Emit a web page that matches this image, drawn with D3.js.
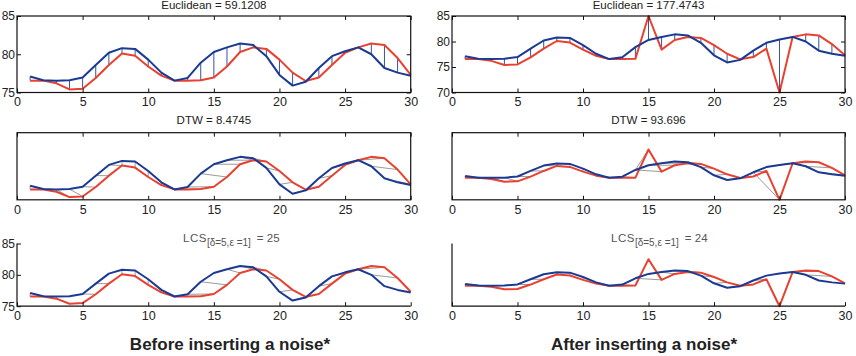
<!DOCTYPE html>
<html>
<head>
<meta charset="utf-8">
<script src="https://cdn.jsdelivr.net/npm/d3@7"></script>
<style>
body { margin: 0; background: #fff; }
svg { display: block; }
text { font-family: "Liberation Sans", Arial, sans-serif; fill: #222; }
</style>
</head>
<body>
<div id="chart"></div>
<script>
// Data
var timeIndex = [1, 2, 3, 4, 5, 6, 7, 8, 9, 10, 11, 12, 13, 14, 15, 16, 17, 18, 19, 20, 21, 22, 23, 24, 25, 26, 27, 28, 29, 30];
var blueSeries = [77.1, 76.6, 76.55, 76.6, 76.95, 78.6, 80.2, 80.8, 80.7, 79.3, 77.6, 76.55, 76.9, 78.9, 80.3, 80.9, 81.4, 81.2, 79.75, 77.3, 75.9, 76.4, 78.2, 79.75, 80.4, 80.9, 80.0, 78.2, 77.6, 77.2];
var redSeries = [76.55, 76.55, 76.2, 75.4, 75.5, 76.9, 78.6, 80.1, 79.8, 78.4, 77.2, 76.55, 76.55, 76.6, 76.95, 78.4, 80.3, 80.9, 80.7, 79.3, 77.6, 76.5, 76.95, 78.6, 80.2, 80.9, 81.4, 81.2, 79.5, 77.3];
var redNoisy = [76.55, 76.55, 76.2, 75.4, 75.5, 76.9, 78.6, 80.1, 79.8, 78.4, 77.2, 76.55, 76.55, 76.6, 85.0, 78.4, 80.3, 80.9, 80.7, 79.3, 77.6, 76.5, 76.95, 78.6, 70.0, 80.9, 81.4, 81.2, 79.5, 77.3];

var xTicks = [0, 5, 10, 15, 20, 25, 30];
var yTicksClean = [75, 80, 85];
var yTicksNoisy = [70, 75, 80, 85];

var euclidTitles = ["Euclidean = 59.1208", "Euclidean = 177.4743"];
var dtwTitles = ["DTW = 8.4745", "DTW = 93.696"];
var lcsValues = ["25", "24"];
var captions = ["Before inserting a noise*", "After inserting a noise*"];

var blueColor = "#1b3a92";
var redColor = "#e8412f";

var w = 856, h = 356;
var svg = d3.select("#chart").append("svg").attr("width", w).attr("height", h);

// DTW alignment path (absolute difference cost)
function dtwPairs(a, b) {
    var n = a.length, m = b.length, D = [];
    for (var i = 0; i < n; i++) {
        D.push([]);
        for (var j = 0; j < m; j++) {
            var c = Math.abs(a[i] - b[j]);
            var best;
            if (i == 0 && j == 0) best = 0;
            else best = Math.min(i > 0 ? D[i - 1][j] : Infinity, j > 0 ? D[i][j - 1] : Infinity, i > 0 && j > 0 ? D[i - 1][j - 1] : Infinity);
            D[i][j] = c + best;
        }
    }
    var pairs = [[n - 1, m - 1]];
    var i = n - 1, j = m - 1;
    while (i > 0 || j > 0) {
        if (i == 0) j--;
        else if (j == 0) i--;
        else {
            var diag = D[i - 1][j - 1], up = D[i - 1][j], left = D[i][j - 1];
            if (diag <= up && diag <= left) { i--; j--; }
            else if (up <= left) i--;
            else j--;
        }
        pairs.push([i, j]);
    }
    return pairs;
}

// LCSS matching pairs
function lcsPairs(a, b, delta, eps) {
    var n = a.length, m = b.length, L = [];
    for (var i = 0; i <= n; i++) L.push(new Array(m + 1).fill(0));
    for (var i = 1; i <= n; i++) {
        for (var j = 1; j <= m; j++) {
            if (Math.abs(a[i - 1] - b[j - 1]) < eps && Math.abs(i - j) <= delta) L[i][j] = L[i - 1][j - 1] + 1;
            else L[i][j] = Math.max(L[i - 1][j], L[i][j - 1]);
        }
    }
    var pairs = [];
    var i = n, j = m;
    while (i > 0 && j > 0) {
        if (Math.abs(a[i - 1] - b[j - 1]) < eps && Math.abs(i - j) <= delta && L[i][j] == L[i - 1][j - 1] + 1) {
            pairs.push([i - 1, j - 1]); i--; j--;
        } else if (L[i - 1][j] >= L[i][j - 1]) i--;
        else j--;
    }
    return pairs;
}

function samePairs(a) {
    return a.map(function (d, i) { return [i, i]; });
}

var cols = [
    { left: 17, right: 410.7, red: redSeries, lcsX: 183, capX: 230 },
    { left: 452, right: 845, red: redNoisy, lcsX: 611, capX: 644 }
];

var rows = [
    { top: 16, bottom: 92.5, box: true },
    { top: 132.7, bottom: 199.8, box: true },
    { top: 243.5, bottom: 306.2, box: false }
];

function drawPanel(col, row, cfg) {
    var x = d3.scaleLinear().domain([0, 30]).range([col.left, col.right]);
    var y = d3.scaleLinear().domain(cfg.yDomain).range([row.bottom, row.top]);
    var g = svg.append("g");

    // connecting lines between matched points
    g.selectAll(".link")
        .data(cfg.pairs)
        .enter()
        .append("line")
        .attr("x1", function (d) { return x(timeIndex[d[0]]); })
        .attr("y1", function (d) { return y(blueSeries[d[0]]); })
        .attr("x2", function (d) { return x(timeIndex[d[1]]); })
        .attr("y2", function (d) { return y(col.red[d[1]]); })
        .style("stroke", cfg.linkColor)
        .style("stroke-width", 1);

    var line = d3.line()
        .x(function (d, i) { return x(timeIndex[i]); })
        .y(function (d) { return y(d); });

    g.append("path").datum(col.red).attr("d", line)
        .style("fill", "none").style("stroke", redColor).style("stroke-width", 2).style("stroke-linejoin", "round");
    g.append("path").datum(blueSeries).attr("d", line)
        .style("fill", "none").style("stroke", blueColor).style("stroke-width", 2).style("stroke-linejoin", "round");

    // bottom axis with labels, ticks pointing in
    var xa = g.append("g")
        .attr("transform", "translate(0," + row.bottom + ")")
        .call(d3.axisBottom(x).tickValues(xTicks).tickSizeInner(-4).tickSizeOuter(0).tickPadding(5));
    xa.selectAll("text").style("font-size", "12.5px").style("fill", "#222");

    if (row.box) {
        g.append("g")
            .attr("transform", "translate(0," + row.top + ")")
            .call(d3.axisTop(x).tickValues(xTicks).tickSizeInner(-4).tickSizeOuter(0).tickFormat(""));
    }

    if (cfg.yTicks) {
        var ya = g.append("g")
            .attr("transform", "translate(" + col.left + ",0)")
            .call(d3.axisLeft(y).tickValues(cfg.yTicks).tickSizeInner(-4).tickSizeOuter(0).tickPadding(2));
        ya.selectAll("text").style("font-size", "12px").style("fill", "#222");
        if (!cfg.yLabels) ya.selectAll("text").remove();
        if (row.box) {
            g.append("g")
                .attr("transform", "translate(" + col.right + ",0)")
                .call(d3.axisRight(y).tickValues(cfg.yTicks).tickSizeInner(-4).tickSizeOuter(0).tickFormat(""));
        }
    }

    g.selectAll(".domain").remove();
    g.selectAll(".tick line").style("stroke", "#111");

    if (row.box) {
        g.append("rect")
            .attr("x", col.left).attr("y", row.top)
            .attr("width", col.right - col.left).attr("height", row.bottom - row.top)
            .style("fill", "none").style("stroke", "#111").style("stroke-width", 1.2);
    } else {
        g.append("path")
            .attr("d", "M" + col.left + "," + row.top + "V" + row.bottom + "H" + col.right)
            .style("fill", "none").style("stroke", "#111").style("stroke-width", 1.2);
    }
}

cols.forEach(function (col, c) {
    var yDom = c == 0 ? [75, 85] : [70, 85];
    var yDomWide = c == 0 ? [75, 85] : [70, 90];
    var yT = c == 0 ? yTicksClean : yTicksNoisy;

    // Euclidean
    drawPanel(col, rows[0], {
        yDomain: yDom, yTicks: yT, yLabels: true,
        pairs: samePairs(blueSeries), linkColor: "#3552a6"
    });
    // DTW
    drawPanel(col, rows[1], {
        yDomain: yDomWide, yTicks: null,
        pairs: dtwPairs(blueSeries, col.red), linkColor: "#9a9a9a"
    });
    // LCS
    drawPanel(col, rows[2], {
        yDomain: yDomWide, yTicks: c == 0 ? yTicksClean : [], yLabels: c == 0,
        pairs: lcsPairs(blueSeries, col.red, 5, 1), linkColor: "#9a9a9a"
    });

    var cx = (col.left + col.right) / 2;
    svg.append("text").attr("x", cx).attr("y", 8.5).attr("text-anchor", "middle")
        .style("font-size", "11.5px").text(euclidTitles[c]);
    svg.append("text").attr("x", cx).attr("y", 124).attr("text-anchor", "middle")
        .style("font-size", "11.5px").text(dtwTitles[c]);

    var lt = svg.append("text").attr("x", col.lcsX).attr("y", 242).style("font-size", "11.5px").style("fill", "#555");
    lt.append("tspan").style("letter-spacing", "0.5px").text("LCS");
    lt.append("tspan").attr("dy", 4).style("font-size", "10px").text("[δ=5,ε =1]");
    lt.append("tspan").attr("dy", -4).attr("dx", 6).text("= " + lcsValues[c]);

    svg.append("text").attr("x", col.capX).attr("y", 350).attr("text-anchor", "middle")
        .style("font-size", "17px").style("font-weight", "bold").style("fill", "#222").text(captions[c]);
});
</script>
</body>
</html>
